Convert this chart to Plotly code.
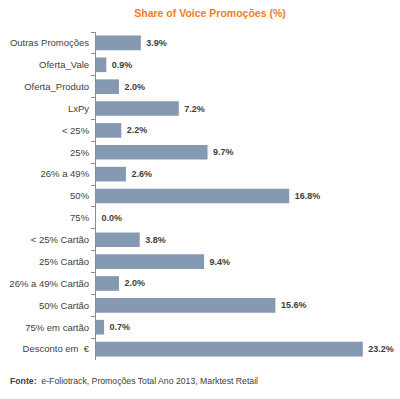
import plotly.graph_objects as go

categories = ["Outras Promoções", "Oferta_Vale", "Oferta_Produto", "LxPy", "< 25%", "25%",
              "26% a 49%", "50%", "75%", "< 25% Cartão", "25% Cartão", "26% a 49% Cartão",
              "50% Cartão", "75% em cartão", "Desconto em  €"]
values = [3.9, 0.9, 2.0, 7.2, 2.2, 9.7, 2.6, 16.8, 0.0, 3.8, 9.4, 2.0, 15.6, 0.7, 23.2]
labels = [f" {v:.1f}%" for v in values]

W, H = 400, 399
L, R, T, B = 96, 11, 32, 39
pw = W - L - R
ph = H - T - B

fig = go.Figure(go.Bar(
    x=values, y=categories, orientation="h",
    marker=dict(color="#8599B3", line=dict(width=0)),
    text=labels, textposition="outside", cliponaxis=False,
    textfont=dict(family="Liberation Sans", size=9, color="#404040", weight="bold"),
))

fig.update_layout(
    width=W, height=H,
    margin=dict(l=L, r=R, t=T, b=B, autoexpand=False),
    paper_bgcolor="white", plot_bgcolor="white",
    bargap=0.33, showlegend=False,
    font=dict(family="Liberation Sans", size=9.5, color="#404040"),
    title=dict(text="<b>Share of Voice Promoções (%)</b>", x=210 / W, xanchor="center",
               y=1 - 13 / H, yanchor="middle", yref="container", xref="container",
               font=dict(family="Liberation Sans", size=10.5, color="#F47B20")),
    xaxis=dict(range=[0, pw / 11.5], visible=False),
    yaxis=dict(autorange="reversed", showline=True, linecolor="#8C8C8C", linewidth=1,
               ticks="outside", tickson="boundaries", ticklen=4, tickcolor="#8C8C8C",
               ticklabelstandoff=4,
               showgrid=False, automargin=False, tickfont=dict(size=9.5, color="#404040")),
    annotations=[dict(
        text="<b>Fonte:</b>  e-Foliotrack, Promoções Total Ano 2013, Marktest Retail",
        xref="paper", yref="paper", x=(8 - L) / pw, y=(T + ph - 381) / ph,
        xanchor="left", yanchor="middle", showarrow=False,
        font=dict(family="Liberation Sans", size=8.7, color="#404040"))],
)

fig.write_html("out.html", config={"displayModeBar": False},
               post_script="document.body.style.margin='0';document.body.style.overflow='hidden';")
